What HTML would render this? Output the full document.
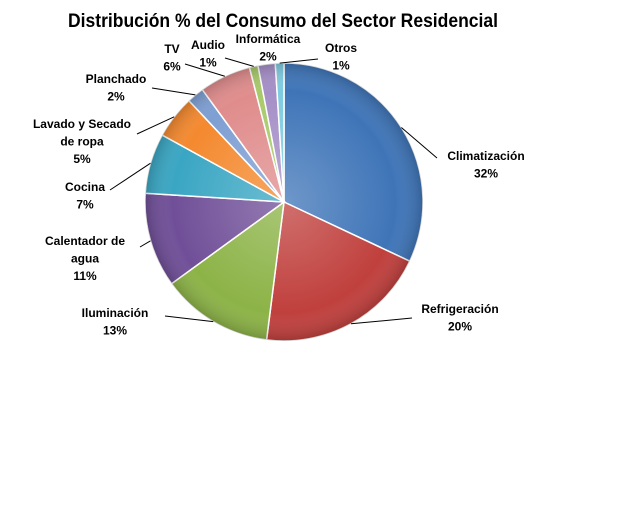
<!DOCTYPE html>
<html><head><meta charset="utf-8"><style>
body{margin:0;background:#fff;}
svg text{font-family:"Liberation Sans",sans-serif;font-weight:bold;fill:#000;}
</style></head><body>
<svg id="c" width="640" height="512">
<defs>
<radialGradient id="shade" cx="50%" cy="50%" r="50%">
<stop offset="0%" stop-color="#fff" stop-opacity="0.25"/>
<stop offset="80%" stop-color="#fff" stop-opacity="0"/>
<stop offset="100%" stop-color="#000" stop-opacity="0.18"/>
</radialGradient>
</defs>
<text x="68" y="27" font-size="19" textLength="430" lengthAdjust="spacingAndGlyphs">Distribución % del Consumo del Sector Residencial</text>
<g id="slices"></g>
<g id="labels"></g>
</svg>
<script>
const categories=["Climatización","Refrigeración","Iluminación","Calentador de agua","Cocina","Lavado y Secado de ropa","Planchado","TV","Audio","Informática","Otros"];
const values=[32,20,13,11,7,5,2,6,1,2,1];
const labelLines=[["Climatización"],["Refrigeración"],["Iluminación"],["Calentador de","agua"],["Cocina"],["Lavado y Secado","de ropa"],["Planchado"],["TV"],["Audio"],["Informática"],["Otros"]];
const colors=["#3f75b8","#c0403d","#8cb347","#704f98","#3aa6c3","#f4892f","#7e9fd3","#e08c8c","#a8c96a","#a58fc7","#7fcbe0"];
const labelPos=[[486,160],[460,313],[115,317],[85,245],[85,191],[82,128],[116,83],[172,53],[208,49],[268,43],[341,52]];
const anchors=[[437,158],[412,318],[165,316],[140,247],[110,190],[137,134],[152,88],[185,64],[225,58],[null,null],[318,59]];
const cx=284,cy=202,R=139;
const NS="http://www.w3.org/2000/svg";
const total=values.reduce((a,b)=>a+b,0);
const gS=document.getElementById('slices'),gL=document.getElementById('labels');
function pt(a,r){return [cx+r*Math.sin(a),cy-r*Math.cos(a)];}
let acc=0;
values.forEach((v,i)=>{
  const a0=acc/total*2*Math.PI;acc+=v;const a1=acc/total*2*Math.PI;
  const p0=pt(a0,R),p1=pt(a1,R);
  const p=document.createElementNS(NS,'path');
  p.setAttribute('d',`M${cx},${cy}L${p0[0]},${p0[1]}A${R},${R} 0 ${a1-a0>Math.PI?1:0} 1 ${p1[0]},${p1[1]}Z`);
  p.setAttribute('fill',colors[i]);p.setAttribute('stroke','#fff');p.setAttribute('stroke-width','1.5');
  
  
  gS.appendChild(p);
  const am=(a0+a1)/2,pe=pt(am,R),an=anchors[i];
  if(an[0]!==null){
    const l=document.createElementNS(NS,'polyline');
    l.setAttribute('points',`${pe[0]},${pe[1]} ${an[0]},${an[1]}`);
    l.setAttribute('stroke','#000');l.setAttribute('fill','none');l.setAttribute('stroke-width','1');
    
    
    gL.appendChild(l);
  }
  const t=document.createElementNS(NS,'text');
  t.setAttribute('font-size','12');t.setAttribute('text-anchor','middle');
  
  
  const lines=labelLines[i].concat([Math.round(v/total*100)+'%']);
  lines.forEach((s,k)=>{const ts=document.createElementNS(NS,'tspan');ts.setAttribute('x',labelPos[i][0]);ts.setAttribute('y',labelPos[i][1]+k*17.5);ts.textContent=s;t.appendChild(ts);});
  gL.appendChild(t);
});
const c=document.createElementNS(NS,'circle');
c.setAttribute('cx',cx);c.setAttribute('cy',cy);c.setAttribute('r',R);c.setAttribute('fill','url(#shade)');c.setAttribute('pointer-events','none');


gS.appendChild(c);
</script>
</body></html>
